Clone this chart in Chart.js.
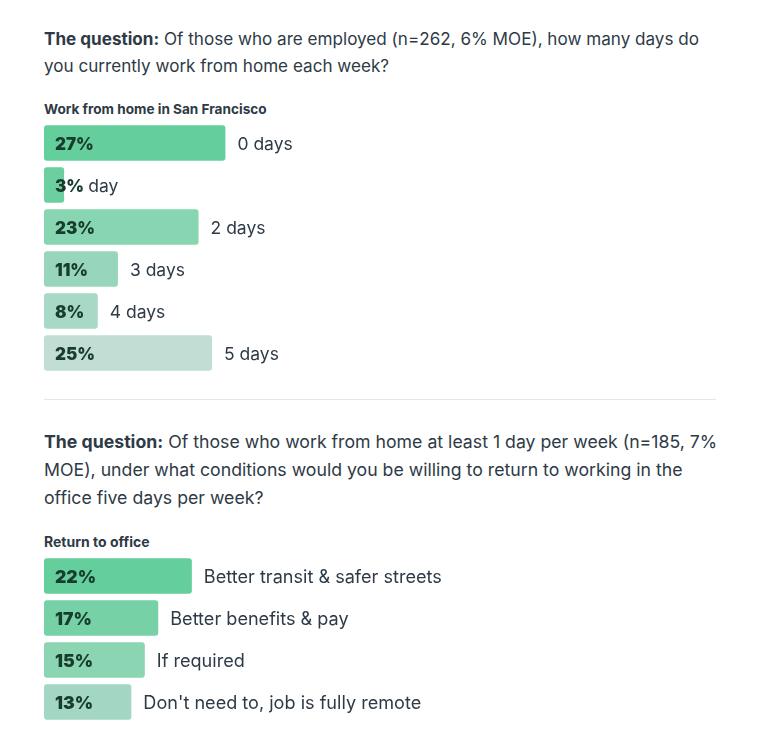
<!DOCTYPE html>
<html>
<head>
<meta charset="utf-8">
<script src="https://cdn.jsdelivr.net/npm/chart.js@4.4.1/dist/chart.umd.min.js"></script>
<style>
  html, body { margin: 0; padding: 0; background: #fff; }
  body { width: 759px; height: 747px; position: relative; overflow: hidden; font-family: Inter, "Noto Sans", sans-serif; color: #2e3a46; }
  .q { position: absolute; left: 44px; width: 715px; font-size: 17.1px; line-height: 27px; margin: 0; white-space: nowrap; }
  .q b { font-weight: 700; }
  .sub { position: absolute; left: 44px; font-size: 13.6px; font-weight: 700; margin: 0; line-height: 16px; }
  .box { position: absolute; left: 44px; width: 672px; }
  .rule { position: absolute; left: 44px; width: 672px; top: 399px; height: 1px; background: #e6e6e6; }
</style>
</head>
<body>
<p class="q" style="top:25px;"><b>The question:</b> Of those who are employed (n=262, 6% MOE), how many days do<br>you currently work from home each week?</p>
<p class="sub" style="top:101px;">Work from home in San Francisco</p>
<div class="box" style="top:121.5px;height:252px;"><canvas id="c1"></canvas></div>
<div class="rule"></div>
<p class="q" style="top:428px;line-height:28px;font-size:17.7px;"><b>The question:</b> Of those who work from home at least 1 day per week (n=185, 7%<br>MOE), under what conditions would you be willing to return to working in the<br>office five days per week?</p>
<p class="sub" style="top:534px;font-size:14px;">Return to office</p>
<div class="box" style="top:555px;height:168px;"><canvas id="c2"></canvas></div>
<script>
const wfhCategories = ["0 days", "1 day", "2 days", "3 days", "4 days", "5 days"];
const wfhValues = [27, 3, 23, 11, 8, 25];
const wfhColors = ["#64cf9c", "#6ccf9f", "#88d6b1", "#97d6bc", "#a8d9c6", "#c2ddd4"];

const rtoCategories = ["Better transit & safer streets", "Better benefits & pay", "If required", "Don't need to, job is fully remote"];
const rtoValues = [22, 17, 15, 13];
const rtoColors = ["#64cf9c", "#76d2a6", "#8bd5b2", "#a3d7c3"];

function labelPlugin(catSize, valSize) {
  return {
    id: 'barLabels',
    afterDatasetsDraw(chart) {
      const ctx = chart.ctx;
      const meta = chart.getDatasetMeta(0);
      const ds = chart.data.datasets[0];
      ctx.save();
      ctx.textBaseline = 'middle';
      ctx.textAlign = 'left';
      meta.data.forEach((bar, i) => {
        ctx.font = '400 ' + catSize + 'px Inter, "Noto Sans", sans-serif';
        ctx.fillStyle = '#2e3a46';
        ctx.fillText(chart.data.labels[i], bar.x + 12, bar.y + 1.5);
      });
      meta.data.forEach((bar, i) => {
        const txt = ds.data[i] + '%';
        ctx.font = '900 ' + valSize + 'px Inter, "Noto Sans", sans-serif';
        const w = ctx.measureText(txt).width;
        if (bar.base + 11 + w > bar.x) {
          ctx.fillStyle = '#ffffff';
          ctx.fillRect(bar.x, bar.y - 10, bar.base + 11 + w + 1 - bar.x, 20);
        }
        ctx.fillStyle = '#183d2d';
        ctx.fillText(txt, bar.base + 11, bar.y + 1.5);
      });
      ctx.restore();
    }
  };
}

function makeChart(id, labels, values, colors, catSize, valSize) {
  return new Chart(document.getElementById(id), {
    type: 'bar',
    data: {
      labels: labels,
      datasets: [{
        data: values,
        backgroundColor: colors,
        borderRadius: 3,
        borderSkipped: false,
        barPercentage: 0.84,
        categoryPercentage: 1.0
      }]
    },
    options: {
      indexAxis: 'y',
      responsive: true,
      maintainAspectRatio: false,
      animation: false,
      layout: { padding: 0 },
      plugins: { legend: { display: false }, tooltip: { enabled: false } },
      scales: {
        x: { display: false, min: 0, max: 100 },
        y: { display: false }
      }
    },
    plugins: [labelPlugin(catSize, valSize)]
  });
}

makeChart('c1', wfhCategories, wfhValues, wfhColors, 17.5, 17);
makeChart('c2', rtoCategories, rtoValues, rtoColors, 18.1, 17.6);
</script>
</body>
</html>
